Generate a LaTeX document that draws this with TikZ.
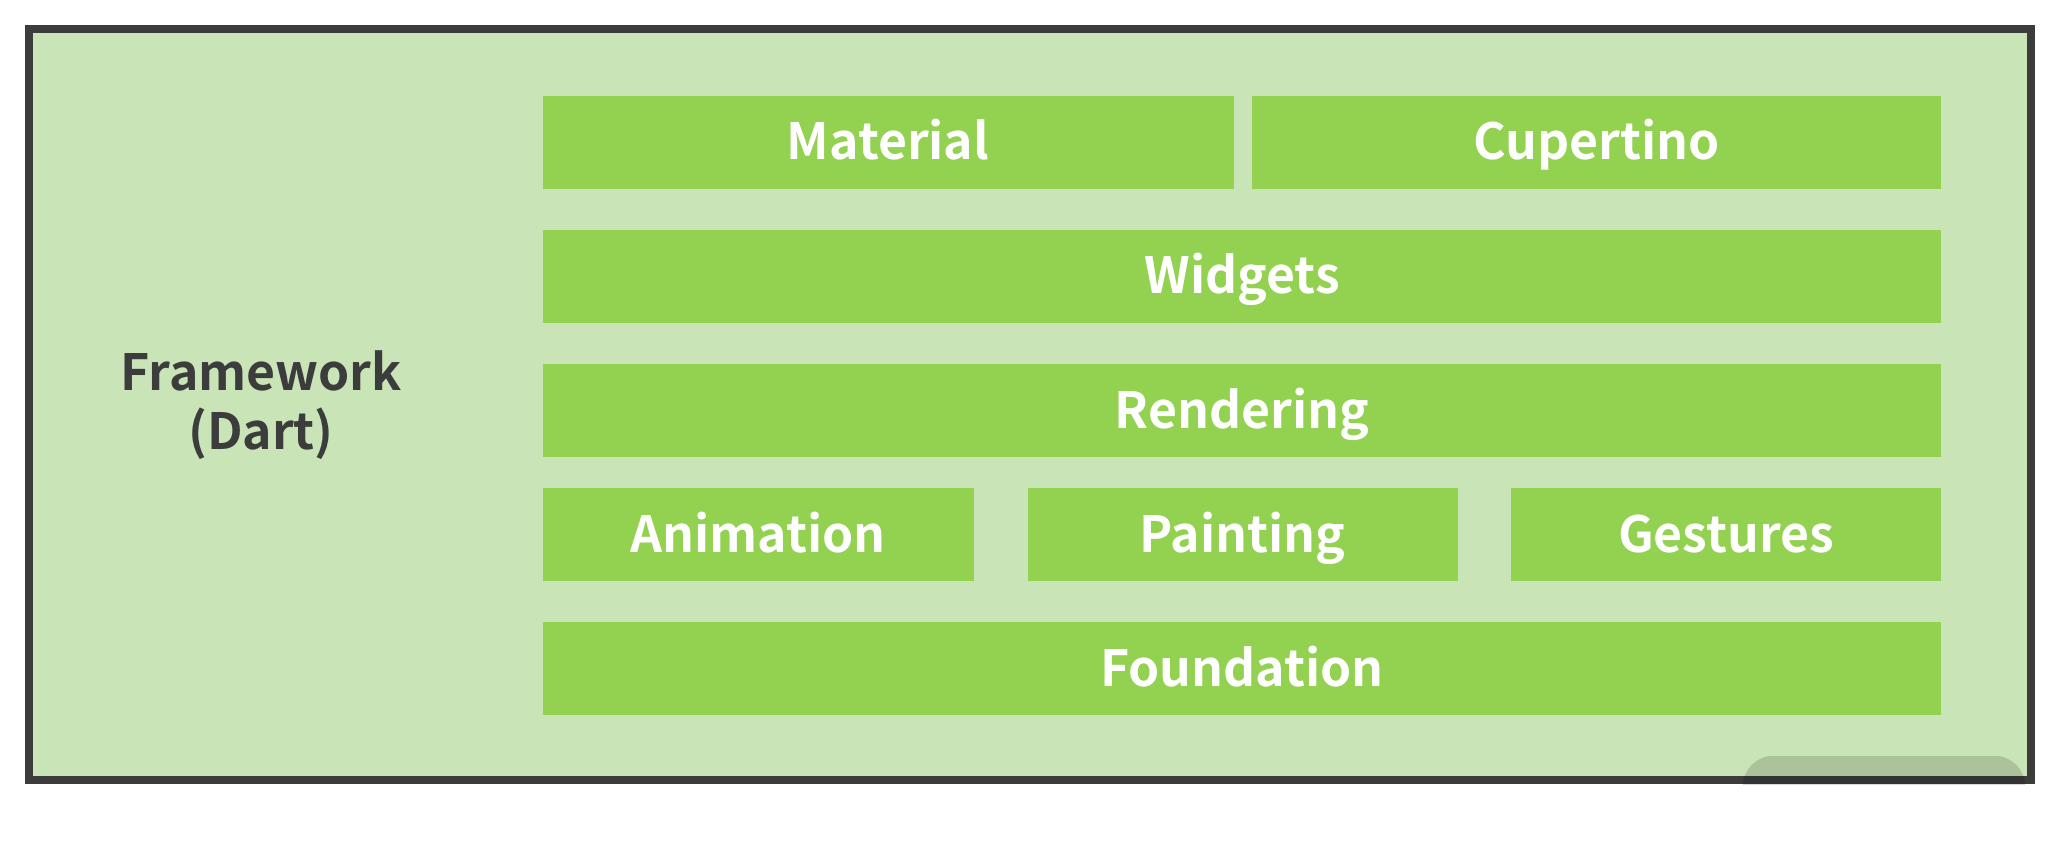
\documentclass[tikz,border=0pt]{standalone}
\usepackage{fontspec}
\setmainfont{Noto Sans CJK SC}[BoldFont={Noto Sans CJK SC Bold}]
\usepackage{xcolor}
\usepackage{tikz}
\usetikzlibrary{positioning}

\definecolor{panelgreen}{HTML}{C9E4B7}
\definecolor{layergreen}{HTML}{93D150}
\definecolor{framegray}{HTML}{3C3C3C}

\begin{document}
\begin{tikzpicture}[
    x=0.1mm, y=-0.1mm,
    layer/.style={fill=layergreen,draw=none,minimum height=9.3mm,inner sep=0pt,
                  text height=5mm,text depth=1.4mm,
                  text=white,font=\fontsize{14.2}{17}\selectfont\bfseries},
    side/.style={align=center,text=framegray,
                 font=\fontsize{14.2}{17}\selectfont\bfseries},
  ]
  \useasboundingbox (0,0) rectangle (2055,865);

  % outer framework panel
  \draw[framegray,line width=0.8mm,fill=panelgreen] (28.5,28.5) rectangle (2031,779.5);

  % --- label on the left ---
  \node[side] (fw) at (261,405) {Framework\\(Dart)};

  % --- top row ---
  \node[layer,minimum width=69.1mm] (material)  at (888,142)  {Material};
  \node[layer,minimum width=68.9mm] (cupertino) at (1596.5,142) {Cupertino};

  % --- full-width layers ---
  \node[layer,minimum width=139.85mm] (widgets)   at (1242,276) {Widgets};
  \node[layer,minimum width=139.85mm] (rendering) at (1242,410) {Rendering};

  % --- three blocks side by side ---
  \node[layer,minimum width=43.1mm] (animation) at (758.2,534)  {Animation};
  \node[layer,minimum width=43.0mm] (painting)  at (1242.5,534) {Painting};
  \node[layer,minimum width=43.0mm] (gestures)  at (1726,534)   {Gestures};

  % --- bottom layer ---
  \node[layer,minimum width=139.85mm] (foundation) at (1242,668) {Foundation};

  % watermark corner, cut off at the frame
  \begin{scope}
    \clip (1700,740) rectangle (2055,784);
    \fill[black,opacity=0.15,rounded corners=3mm] (1743,756) rectangle (2025,830);
  \end{scope}

\end{tikzpicture}
\end{document}
